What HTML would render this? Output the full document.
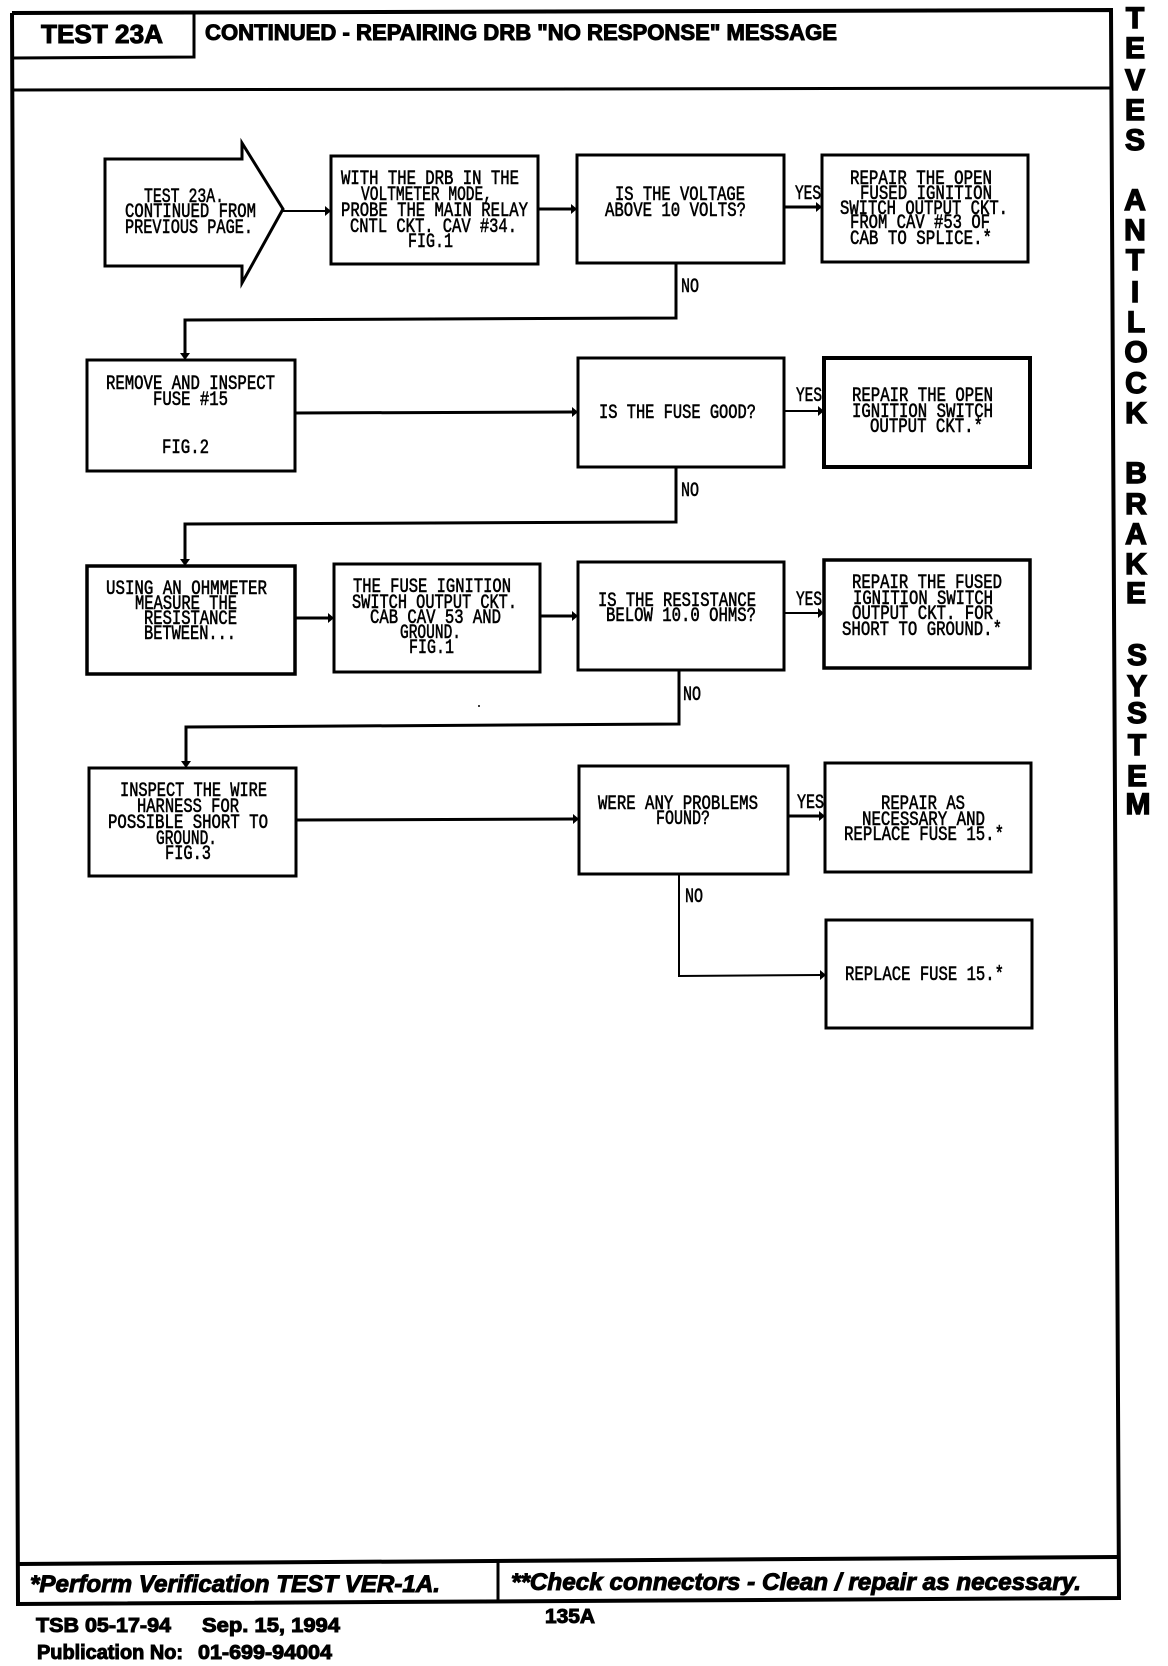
<!DOCTYPE html>
<html>
<head>
<meta charset="utf-8">
<title>Test 23A</title>
<style>
html,body{margin:0;padding:0;background:#fff;width:1168px;height:1666px;overflow:hidden}
svg{display:block}
.b{fill:#fff;stroke:#000;stroke-width:3}
.l{fill:none;stroke:#000;stroke-width:3}
.t{fill:none;stroke:#000;stroke-width:2}
.h{fill:#000}
.m text{font-family:"Liberation Mono",monospace;font-size:20px;fill:#000;stroke:#000;stroke-width:.6}
.s text{font-family:"Liberation Sans",sans-serif;font-weight:bold;fill:#000;stroke:#000;stroke-width:1}
.i text{font-style:italic}
.v text{font-size:30px;text-anchor:middle;stroke-width:1.4}
</style>
</head>
<body>
<svg width="1168" height="1666" viewBox="0 0 1168 1666" xmlns="http://www.w3.org/2000/svg">
<rect width="1168" height="1666" fill="#fff"/>

<!-- page frame -->
<polyline class="l" points="12,13 1111,10 1119,1598 18,1604 12,13" style="stroke-width:4"/>
<line class="l" x1="12" y1="90" x2="1112" y2="88"/>
<polyline class="l" points="194,13 194,57 12,58"/>
<line class="l" x1="18" y1="1564" x2="1118" y2="1557" style="stroke-width:4"/>
<line class="l" x1="498" y1="1562" x2="498" y2="1602"/>

<!-- start arrow -->
<polygon class="b" points="105,159 242,159 242,143 283,209 242,283 242,266 105,266"/>

<!-- boxes -->
<rect class="b" x="331" y="156" width="207" height="108"/>
<rect class="b" x="577" y="155" width="207" height="108"/>
<rect class="b" x="822" y="155" width="206" height="107"/>
<rect class="b" x="87" y="360" width="208" height="111"/>
<rect class="b" x="578" y="358" width="206" height="109"/>
<rect class="b" x="824" y="358" width="206" height="109" style="stroke-width:4"/>
<rect class="b" x="87" y="566" width="208" height="108" style="stroke-width:3.5"/>
<rect class="b" x="334" y="564" width="206" height="108"/>
<rect class="b" x="578" y="562" width="206" height="108"/>
<rect class="b" x="824" y="560" width="206" height="108" style="stroke-width:3.5"/>
<rect class="b" x="89" y="768" width="207" height="108"/>
<rect class="b" x="579" y="766" width="209" height="108"/>
<rect class="b" x="825" y="763" width="206" height="109"/>
<rect class="b" x="826" y="920" width="206" height="108"/>

<!-- connectors -->
<line class="t" x1="283" y1="211" x2="326" y2="211"/>
<polygon class="h" points="325,206 331,211 325,216"/>
<line class="l" x1="538" y1="209" x2="572" y2="209"/>
<polygon class="h" points="571,204 577,209 571,214"/>
<line class="l" x1="784" y1="207" x2="817" y2="207"/>
<polygon class="h" points="816,202 822,207 816,212"/>
<polyline class="l" points="676,263 676,318 185,320 185,354"/>
<polygon class="h" points="180,353 190,353 185,360"/>
<line class="l" x1="295" y1="413" x2="573" y2="412"/>
<polygon class="h" points="572,407 578,412 572,417"/>
<line class="t" x1="784" y1="411" x2="819" y2="411"/>
<polygon class="h" points="818,406 824,411 818,416"/>
<polyline class="l" points="676,467 676,522 185,524 185,560"/>
<polygon class="h" points="180,559 190,559 185,566"/>
<line class="l" x1="295" y1="618" x2="329" y2="618"/>
<polygon class="h" points="328,613 334,618 328,623"/>
<line class="l" x1="540" y1="616" x2="573" y2="616"/>
<polygon class="h" points="572,611 578,616 572,621"/>
<line class="t" x1="784" y1="613" x2="819" y2="613"/>
<polygon class="h" points="818,608 824,613 818,618"/>
<polyline class="l" points="679,670 679,724 186,727 186,762"/>
<polygon class="h" points="181,761 191,761 186,768"/>
<line class="l" x1="296" y1="820" x2="574" y2="819"/>
<polygon class="h" points="573,814 579,819 573,824"/>
<line class="l" x1="788" y1="816" x2="820" y2="816"/>
<polygon class="h" points="819,811 825,816 819,821"/>
<polyline class="t" points="679,874 679,976 821,975"/>
<polygon class="h" points="820,970 826,975 820,980"/>
<circle class="h" cx="479" cy="706" r="1"/>

<!-- flowchart text -->
<g class="m">
<text x="144" y="202" textLength="80" lengthAdjust="spacingAndGlyphs">TEST 23A.</text>
<text x="125" y="217" textLength="131" lengthAdjust="spacingAndGlyphs">CONTINUED FROM</text>
<text x="125" y="233" textLength="128" lengthAdjust="spacingAndGlyphs">PREVIOUS PAGE.</text>

<text x="341" y="184" textLength="178" lengthAdjust="spacingAndGlyphs">WITH THE DRB IN THE</text>
<text x="361" y="200" textLength="131" lengthAdjust="spacingAndGlyphs">VOLTMETER MODE,</text>
<text x="341" y="216" textLength="187" lengthAdjust="spacingAndGlyphs">PROBE THE MAIN RELAY</text>
<text x="350" y="232" textLength="167" lengthAdjust="spacingAndGlyphs">CNTL CKT. CAV #34.</text>
<text x="408" y="247" textLength="45" lengthAdjust="spacingAndGlyphs">FIG.1</text>

<text x="615" y="200" textLength="130" lengthAdjust="spacingAndGlyphs">IS THE VOLTAGE</text>
<text x="605" y="216" textLength="141" lengthAdjust="spacingAndGlyphs">ABOVE 10 VOLTS?</text>

<text x="850" y="184" textLength="142" lengthAdjust="spacingAndGlyphs">REPAIR THE OPEN</text>
<text x="860" y="199" textLength="132" lengthAdjust="spacingAndGlyphs">FUSED IGNITION</text>
<text x="840" y="214" textLength="168" lengthAdjust="spacingAndGlyphs">SWITCH OUTPUT CKT.</text>
<text x="850" y="228" textLength="140" lengthAdjust="spacingAndGlyphs">FROM CAV #53 OF</text>
<text x="850" y="244" textLength="142" lengthAdjust="spacingAndGlyphs">CAB TO SPLICE.*</text>

<text x="795" y="199" textLength="26" lengthAdjust="spacingAndGlyphs">YES</text>
<text x="681" y="292" textLength="18" lengthAdjust="spacingAndGlyphs">NO</text>

<text x="106" y="389" textLength="169" lengthAdjust="spacingAndGlyphs">REMOVE AND INSPECT</text>
<text x="153" y="405" textLength="75" lengthAdjust="spacingAndGlyphs">FUSE #15</text>
<text x="162" y="453" textLength="47" lengthAdjust="spacingAndGlyphs">FIG.2</text>

<text x="599" y="418" textLength="157" lengthAdjust="spacingAndGlyphs">IS THE FUSE GOOD?</text>

<text x="852" y="401" textLength="141" lengthAdjust="spacingAndGlyphs">REPAIR THE OPEN</text>
<text x="852" y="417" textLength="141" lengthAdjust="spacingAndGlyphs">IGNITION SWITCH</text>
<text x="870" y="432" textLength="113" lengthAdjust="spacingAndGlyphs">OUTPUT CKT.*</text>

<text x="796" y="401" textLength="26" lengthAdjust="spacingAndGlyphs">YES</text>
<text x="681" y="496" textLength="18" lengthAdjust="spacingAndGlyphs">NO</text>

<text x="106" y="594" textLength="161" lengthAdjust="spacingAndGlyphs">USING AN OHMMETER</text>
<text x="135" y="609" textLength="102" lengthAdjust="spacingAndGlyphs">MEASURE THE</text>
<text x="144" y="624" textLength="93" lengthAdjust="spacingAndGlyphs">RESISTANCE</text>
<text x="144" y="639" textLength="92" lengthAdjust="spacingAndGlyphs">BETWEEN...</text>

<text x="353" y="592" textLength="158" lengthAdjust="spacingAndGlyphs">THE FUSE IGNITION</text>
<text x="352" y="608" textLength="165" lengthAdjust="spacingAndGlyphs">SWITCH OUTPUT CKT.</text>
<text x="370" y="623" textLength="131" lengthAdjust="spacingAndGlyphs">CAB CAV 53 AND</text>
<text x="400" y="638" textLength="61" lengthAdjust="spacingAndGlyphs">GROUND.</text>
<text x="409" y="653" textLength="45" lengthAdjust="spacingAndGlyphs">FIG.1</text>

<text x="598" y="606" textLength="158" lengthAdjust="spacingAndGlyphs">IS THE RESISTANCE</text>
<text x="606" y="621" textLength="150" lengthAdjust="spacingAndGlyphs">BELOW 10.0 OHMS?</text>

<text x="852" y="588" textLength="150" lengthAdjust="spacingAndGlyphs">REPAIR THE FUSED</text>
<text x="853" y="604" textLength="140" lengthAdjust="spacingAndGlyphs">IGNITION SWITCH</text>
<text x="852" y="619" textLength="141" lengthAdjust="spacingAndGlyphs">OUTPUT CKT. FOR</text>
<text x="842" y="635" textLength="160" lengthAdjust="spacingAndGlyphs">SHORT TO GROUND.*</text>

<text x="796" y="605" textLength="26" lengthAdjust="spacingAndGlyphs">YES</text>
<text x="683" y="700" textLength="18" lengthAdjust="spacingAndGlyphs">NO</text>

<text x="120" y="796" textLength="147" lengthAdjust="spacingAndGlyphs">INSPECT THE WIRE</text>
<text x="137" y="812" textLength="102" lengthAdjust="spacingAndGlyphs">HARNESS FOR</text>
<text x="108" y="828" textLength="160" lengthAdjust="spacingAndGlyphs">POSSIBLE SHORT TO</text>
<text x="156" y="844" textLength="61" lengthAdjust="spacingAndGlyphs">GROUND.</text>
<text x="165" y="859" textLength="46" lengthAdjust="spacingAndGlyphs">FIG.3</text>

<text x="598" y="809" textLength="160" lengthAdjust="spacingAndGlyphs">WERE ANY PROBLEMS</text>
<text x="656" y="824" textLength="54" lengthAdjust="spacingAndGlyphs">FOUND?</text>

<text x="881" y="809" textLength="84" lengthAdjust="spacingAndGlyphs">REPAIR AS</text>
<text x="862" y="825" textLength="123" lengthAdjust="spacingAndGlyphs">NECESSARY AND</text>
<text x="844" y="840" textLength="160" lengthAdjust="spacingAndGlyphs">REPLACE FUSE 15.*</text>

<text x="797" y="808" textLength="27" lengthAdjust="spacingAndGlyphs">YES</text>
<text x="685" y="902" textLength="18" lengthAdjust="spacingAndGlyphs">NO</text>

<text x="845" y="980" textLength="159" lengthAdjust="spacingAndGlyphs">REPLACE FUSE 15.*</text>
</g>

<!-- header -->
<g class="s">
<text x="41" y="43" font-size="26" textLength="122" lengthAdjust="spacingAndGlyphs">TEST 23A</text>
<text x="205" y="40" font-size="22" textLength="632" lengthAdjust="spacingAndGlyphs">CONTINUED - REPAIRING DRB "NO RESPONSE" MESSAGE</text>
</g>

<!-- side title -->
<g class="s v">
<text x="1135" y="28">T</text>
<text x="1135" y="58">E</text>
<text x="1135" y="90">V</text>
<text x="1135" y="120">E</text>
<text x="1135" y="150">S</text>
<text x="1135" y="210">A</text>
<text x="1135" y="240">N</text>
<text x="1135" y="270">T</text>
<text x="1135" y="302">I</text>
<text x="1136" y="332">L</text>
<text x="1136" y="362">O</text>
<text x="1136" y="393">C</text>
<text x="1136" y="423">K</text>
<text x="1136" y="483">B</text>
<text x="1136" y="514">R</text>
<text x="1136" y="544">A</text>
<text x="1136" y="574">K</text>
<text x="1136" y="603">E</text>
<text x="1137" y="665">S</text>
<text x="1137" y="696">Y</text>
<text x="1137" y="723">S</text>
<text x="1137" y="755">T</text>
<text x="1137" y="786">E</text>
<text x="1138" y="814">M</text>
</g>

<!-- footer -->
<g class="s i">
<text x="30" y="1592" font-size="24" textLength="410" lengthAdjust="spacingAndGlyphs">*Perform Verification TEST VER-1A.</text>
<text x="511" y="1590" font-size="24" textLength="570" lengthAdjust="spacingAndGlyphs">**Check connectors - Clean / repair as necessary.</text>
</g>
<g class="s">
<text x="36" y="1632" font-size="20" textLength="135" lengthAdjust="spacingAndGlyphs">TSB 05-17-94</text>
<text x="202" y="1632" font-size="20" textLength="138" lengthAdjust="spacingAndGlyphs">Sep. 15, 1994</text>
<text x="37" y="1659" font-size="20" textLength="146" lengthAdjust="spacingAndGlyphs">Publication No:</text>
<text x="198" y="1659" font-size="20" textLength="134" lengthAdjust="spacingAndGlyphs">01-699-94004</text>
<text x="545" y="1623" font-size="20" textLength="50" lengthAdjust="spacingAndGlyphs">135A</text>
</g>
</svg>
</body>
</html>
